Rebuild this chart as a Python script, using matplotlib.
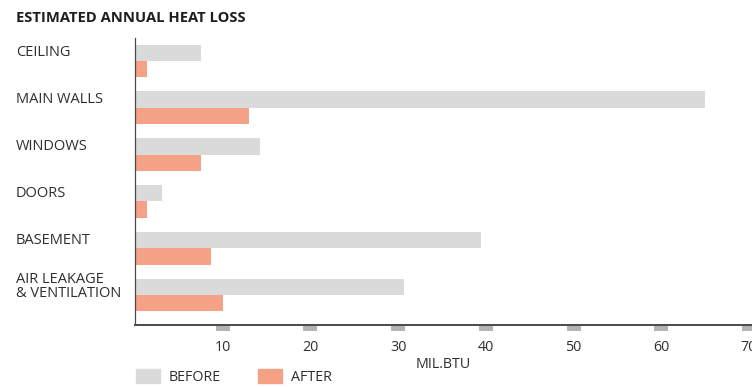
import matplotlib.pyplot as plt
import numpy as np
from matplotlib.patches import Patch

categories = ["CEILING", "MAIN WALLS", "WINDOWS", "DOORS", "BASEMENT", "AIR LEAKAGE\n& VENTILATION"]
before = [7.5, 65.0, 14.3, 3.1, 39.5, 30.7]
after = [1.4, 13.0, 7.5, 1.4, 8.7, 10.0]
xticks = [10, 20, 30, 40, 50, 60, 70]

GRAY = "#dadada"
ORANGE = "#f5a185"
TEXT = "#2e2e2e"

plt.rcParams['font.family'] = ['Open Sans', 'DejaVu Sans']

fig = plt.figure(figsize=(7.52, 3.87), dpi=100)
ax = fig.add_axes([135 / 752, 1 - 325 / 387, (752 - 135) / 752, (325 - 38) / 387])

y = np.arange(len(categories))
h = 0.35
ax.barh(y - h / 2, before, height=h, color=GRAY)
ax.barh(y + h / 2, after, height=h, color=ORANGE)

ax.set_xlim(0, (752 - 135) / 8.77)
ax.set_ylim(5.64, -0.49)

ax.set_xticks(xticks)
ax.set_xticklabels([str(t) for t in xticks], fontsize=10.3, color=TEXT)
ax.tick_params(axis='x', length=4, width=10, color="#b3b3b3", pad=7)
ax.set_yticks([])
ax.set_xlabel("MIL.BTU", fontsize=10.3, color=TEXT, labelpad=1)

for s in ["top", "right"]:
    ax.spines[s].set_visible(False)
ax.spines["bottom"].set_color("#4a4a4a")
ax.spines["bottom"].set_linewidth(1.4)
ax.spines["left"].set_color("#4a4a4a")
ax.spines["left"].set_linewidth(0.9)

# category labels at left, aligned to the "before" bar
for i, c in enumerate(categories):
    ax.annotate(c, xy=(16 / 752, i - h / 2), xycoords=("figure fraction", "data"),
                fontsize=10.5, color=TEXT, ha="left", va="center", linespacing=0.9,
                annotation_clip=False)

fig.text(16 / 752, 1 - 18 / 387, "ESTIMATED ANNUAL HEAT LOSS", fontsize=10.6,
         fontweight="bold", color="#1e1e1e", ha="left", va="center")

handles = [Patch(color=GRAY, label="BEFORE"), Patch(color=ORANGE, label="AFTER")]
fig.legend(handles=handles, loc="center left", bbox_to_anchor=(123 / 752, 1 - 377 / 387),
           ncol=2, frameon=False, fontsize=10.3, handlelength=1.7, handleheight=1.1,
           columnspacing=2.6, handletextpad=0.6, labelcolor=TEXT)

fig.savefig("out.png", dpi=100)
